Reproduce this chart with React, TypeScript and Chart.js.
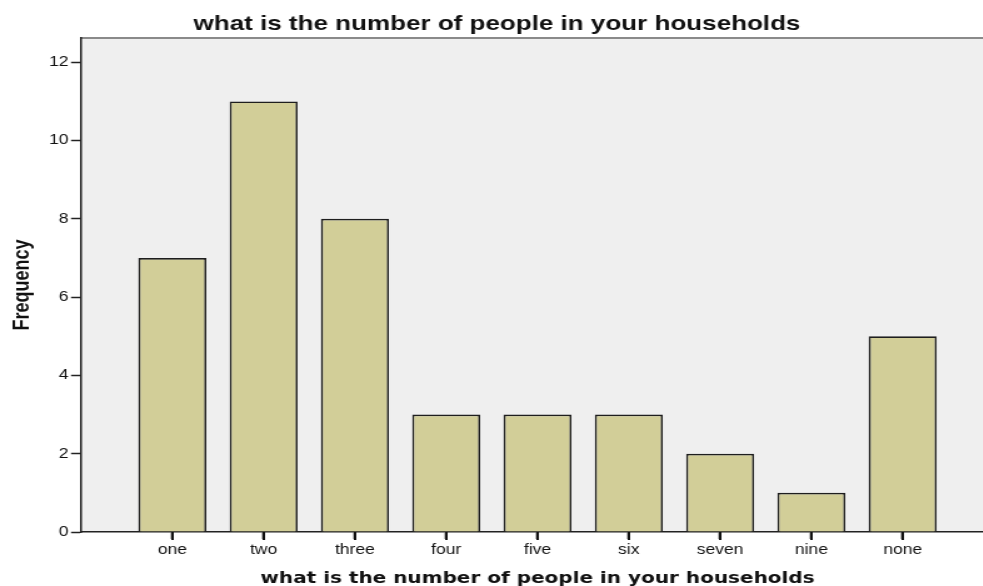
import React, { useEffect, useRef } from "react";
import { Chart, registerables } from "chart.js";

Chart.register(...registerables);

const categories = ["one", "two", "three", "four", "five", "six", "seven", "nine", "none"];
const frequencies = [7, 11, 8, 3, 3, 3, 2, 1, 5];
const yTicks = [0, 2, 4, 6, 8, 10, 12];
const titleText = "what is the number of people in your households";
const xTitleText = "what is the number of people in your households";
const yTitleText = "Frequency";

const STRETCH = 1.25;
const CSS_W = 994;
const CSS_H = 590;
const INT_W = Math.round(CSS_W / STRETCH);
const X_TICK_LEN = 7;

function drawXTicks(chart: any) {
  const xs = chart.scales.x;
  const area = chart.chartArea;
  if (!xs || !area) return;
  const ctx = chart.ctx;
  ctx.save();
  ctx.setTransform(1, 0, 0, 1, 0, 0);
  ctx.globalAlpha = 1;
  ctx.globalCompositeOperation = "source-over";
  ctx.fillStyle = "#111111";
  categories.forEach((_, i) => {
    const px = xs.getPixelForValue(i + 1);
    ctx.fillRect(Math.round(px) - 1, Math.round(area.bottom), 2, X_TICK_LEN + 1);
  });
  ctx.restore();
}

const plotBg = {
  id: "plotBg",
  beforeDraw(chart: any) {
    const { ctx, chartArea } = chart;
    if (!chartArea) return;
    ctx.save();
    ctx.fillStyle = "#efefef";
    ctx.fillRect(chartArea.left, chartArea.top, chartArea.right - chartArea.left, chartArea.bottom - chartArea.top);
    ctx.strokeStyle = "#8a8a8a";
    ctx.lineWidth = 2;
    ctx.beginPath();
    ctx.moveTo(chartArea.left, chartArea.top);
    ctx.lineTo(chartArea.right, chartArea.top);
    ctx.stroke();
    ctx.restore();
    drawXTicks(chart);
  },
  afterDatasetsDraw(chart: any) {
    drawXTicks(chart);
  },
  afterDraw(chart: any) {
    drawXTicks(chart);
  },
};

export default function App() {
  const ref = useRef<HTMLCanvasElement>(null);

  useEffect(() => {
    if (!ref.current) return;
    const chart = new Chart(ref.current, {
      type: "bar",
      data: {
        datasets: [
          {
            label: "Frequency",
            data: frequencies.map((v, i) => ({ x: i + 1, y: v })),
            backgroundColor: "#d2ce98",
            borderColor: "#1e1e1e",
            borderWidth: 1.7,
            barPercentage: 0.745,
            categoryPercentage: 1,
          },
        ],
      },
      plugins: [plotBg],
      options: {
        responsive: false,
        animation: false,
        devicePixelRatio: 1,
        layout: { padding: 0 },
        plugins: {
          legend: { display: false },
          tooltip: { enabled: false },
          title: {
            display: true,
            text: titleText,
            color: "#111",
            font: { family: "'Liberation Sans', Arial, sans-serif", size: 20.8, weight: "bold" },
            padding: { top: 12, bottom: 1 },
          },
        },
        scales: {
          x: {
            type: "linear",
            position: "bottom",
            offset: false,
            min: 0,
            max: categories.length + 1,
            afterBuildTicks: (scale: any) => {
              scale.ticks = categories.map((_, i) => ({ value: i + 1 }));
            },
            afterFit: (scale: any) => {
              scale.height = CSS_H - 532;
            },
            ticks: {
              stepSize: 1,
              autoSkip: false,
              maxRotation: 0,
              padding: 3,
              color: "#111",
              font: { family: "'Liberation Sans', Arial, sans-serif", size: 14 },
              callback: (v: any) => categories[Number(v) - 1] ?? "",
            },
            grid: {
              offset: false,
              drawOnChartArea: false,
              drawTicks: true,
              tickLength: X_TICK_LEN,
              tickColor: "#111",
              tickWidth: 1.6,
            },
            border: { display: true, color: "#222", width: 1.5 },
            title: {
              display: true,
              text: xTitleText,
              color: "#111",
              font: { family: "'DejaVu Sans', sans-serif", size: 16, weight: "bold" },
              padding: { top: 0, bottom: 2 },
            },
          },
          y: {
            min: 0,
            max: 12.62,
            afterBuildTicks: (scale: any) => {
              scale.ticks = yTicks.map((v) => ({ value: v }));
            },
            afterFit: (scale: any) => {
              scale.width = 81 / STRETCH;
            },
            ticks: {
              padding: 2,
              color: "#111",
              font: { family: "'Liberation Sans', Arial, sans-serif", size: 14 },
            },
            grid: {
              drawOnChartArea: false,
              drawTicks: true,
              tickLength: 8,
              tickColor: "#222",
              tickWidth: 1.5,
            },
            border: { display: true, color: "#222", width: 1.5 },
            title: {
              display: true,
              text: yTitleText,
              color: "#111",
              font: { family: "'Liberation Sans', Arial, sans-serif", size: 18, weight: "bold" },
              padding: { top: 7, bottom: 0 },
            },
          },
        },
      },
    });
    return () => chart.destroy();
  }, []);

  return (
    <div
      style={{
        position: "absolute",
        left: 0,
        top: 0,
        width: 983,
        height: 586,
        overflow: "hidden",
        background: "#fff",
      }}
    >
      <canvas
        ref={ref}
        width={INT_W}
        height={CSS_H}
        style={{ width: CSS_W + "px", height: CSS_H + "px", display: "block" }}
      />
    </div>
  );
}
